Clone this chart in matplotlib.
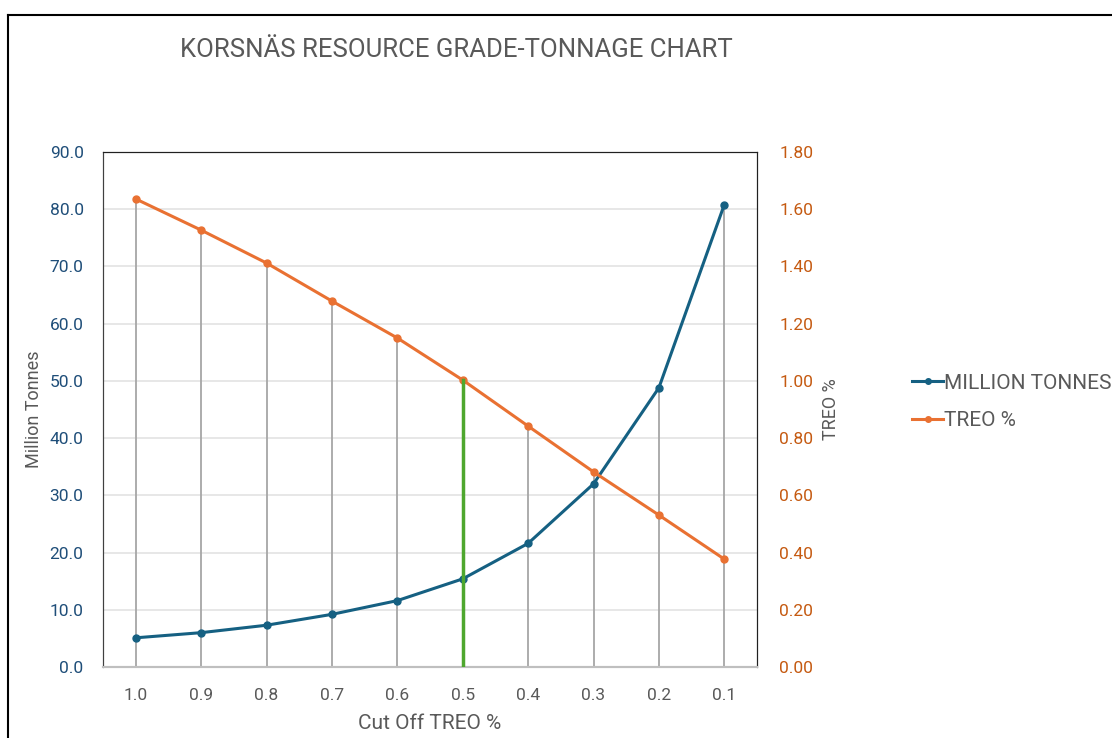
import matplotlib.pyplot as plt
from matplotlib.lines import Line2D
import numpy as np

plt.rcParams['font.family'] = ['Roboto', 'DejaVu Sans']

cutoff = ['1.0', '0.9', '0.8', '0.7', '0.6', '0.5', '0.4', '0.3', '0.2', '0.1']
million_tonnes = [5.1, 6.0, 7.3, 9.2, 11.6, 15.4, 21.6, 32.0, 48.8, 80.8]
treo_pct = [1.636, 1.527, 1.412, 1.279, 1.150, 1.003, 0.842, 0.682, 0.531, 0.377]
highlight = '0.5'

BLUE = '#156082'
ORANGE = '#E97132'
GREEN = '#4EA72E'
GRAY_TXT = '#595959'


def plot():
    fig = plt.figure(figsize=(11.12, 7.38), dpi=100)
    ax = fig.add_axes([103 / 1112, 1 - 667 / 738, 654 / 1112, 515 / 738])
    ax2 = ax.twinx()

    x = np.arange(len(cutoff))

    # drop lines from the top point of each category down to zero
    for i in range(len(cutoff)):
        top = max(million_tonnes[i] / 90, treo_pct[i] / 1.8) * 90
        ax.plot([x[i], x[i]], [0, top], color='#a6a6a6', lw=1.3, zorder=1)

    ax.plot(x, million_tonnes, color=BLUE, lw=2.2, marker='o', ms=5, zorder=3,
            label='MILLION TONNES')
    ax2.plot(x, treo_pct, color=ORANGE, lw=2.2, marker='o', ms=5, zorder=3,
             label='TREO %')

    h = cutoff.index(highlight)
    ax2.plot([x[h], x[h]], [0, treo_pct[h]], color=GREEN, lw=2.5, zorder=4)

    ax.set_xlim(-0.5, len(cutoff) - 0.5)
    ax.set_ylim(0, 90)
    ax2.set_ylim(0, 1.8)
    ax.set_yticks(np.arange(0, 91, 10))
    ax.set_yticklabels([f'{v:.1f}' for v in np.arange(0, 91, 10)])
    ax2.set_yticks(np.arange(0, 1.81, 0.2))
    ax2.set_yticklabels([f'{v:.2f}' for v in np.arange(0, 1.81, 0.2)])
    ax.set_xticks(x)
    ax.set_xticklabels(cutoff)

    ax.grid(axis='y', color='#e3e3e3', lw=1.2, zorder=0)
    ax.set_axisbelow(True)

    ax.tick_params(axis='y', length=0, labelsize=12.5, labelcolor='#1f4e79', pad=14)
    ax.tick_params(axis='x', length=0, labelsize=12.5, labelcolor=GRAY_TXT, pad=15)
    ax2.tick_params(axis='y', length=0, labelsize=12.5, labelcolor='#C55A11', pad=16)

    for a in (ax, ax2):
        a.spines['left'].set_color('#404040')
        a.spines['top'].set_color('#202020')
        a.spines['right'].set_color('#202020')
        a.spines['bottom'].set_color('#bfbfbf')
        a.spines['bottom'].set_linewidth(1.5)

    ax.set_xlabel('Cut Off TREO %', fontsize=15, color=GRAY_TXT, labelpad=8)
    ax.set_ylabel('Million Tonnes', fontsize=13, color=GRAY_TXT, labelpad=5)
    ax2.set_ylabel('TREO %', fontsize=13, color=GRAY_TXT, labelpad=6)

    fig.text(456 / 1112, 1 - 50 / 738, 'KORSNÄS RESOURCE GRADE-TONNAGE CHART',
             fontsize=18.5, color=GRAY_TXT, ha='center', va='center')

    handles = [Line2D([], [], color=BLUE, lw=2.2, marker='o', ms=4),
               Line2D([], [], color=ORANGE, lw=2.2, marker='o', ms=4)]
    fig.legend(handles, ['MILLION TONNES', 'TREO %'], loc='center left',
               bbox_to_anchor=(912 / 1112, 1 - 402 / 738), frameon=False,
               fontsize=15, labelcolor=GRAY_TXT, handlelength=1.5,
               handletextpad=0.05, labelspacing=0.9, borderaxespad=0,
               borderpad=0)

    # chart border
    fig.add_artist(Line2D([8 / 1112, 8 / 1112], [0, 1 - 15 / 738],
                          transform=fig.transFigure, color='black', lw=1.5))
    fig.add_artist(Line2D([8 / 1112, 1], [1 - 15 / 738, 1 - 15 / 738],
                          transform=fig.transFigure, color='black', lw=1.5))

    fig.savefig('out.png', dpi=100)


if __name__ == '__main__':
    plot()
